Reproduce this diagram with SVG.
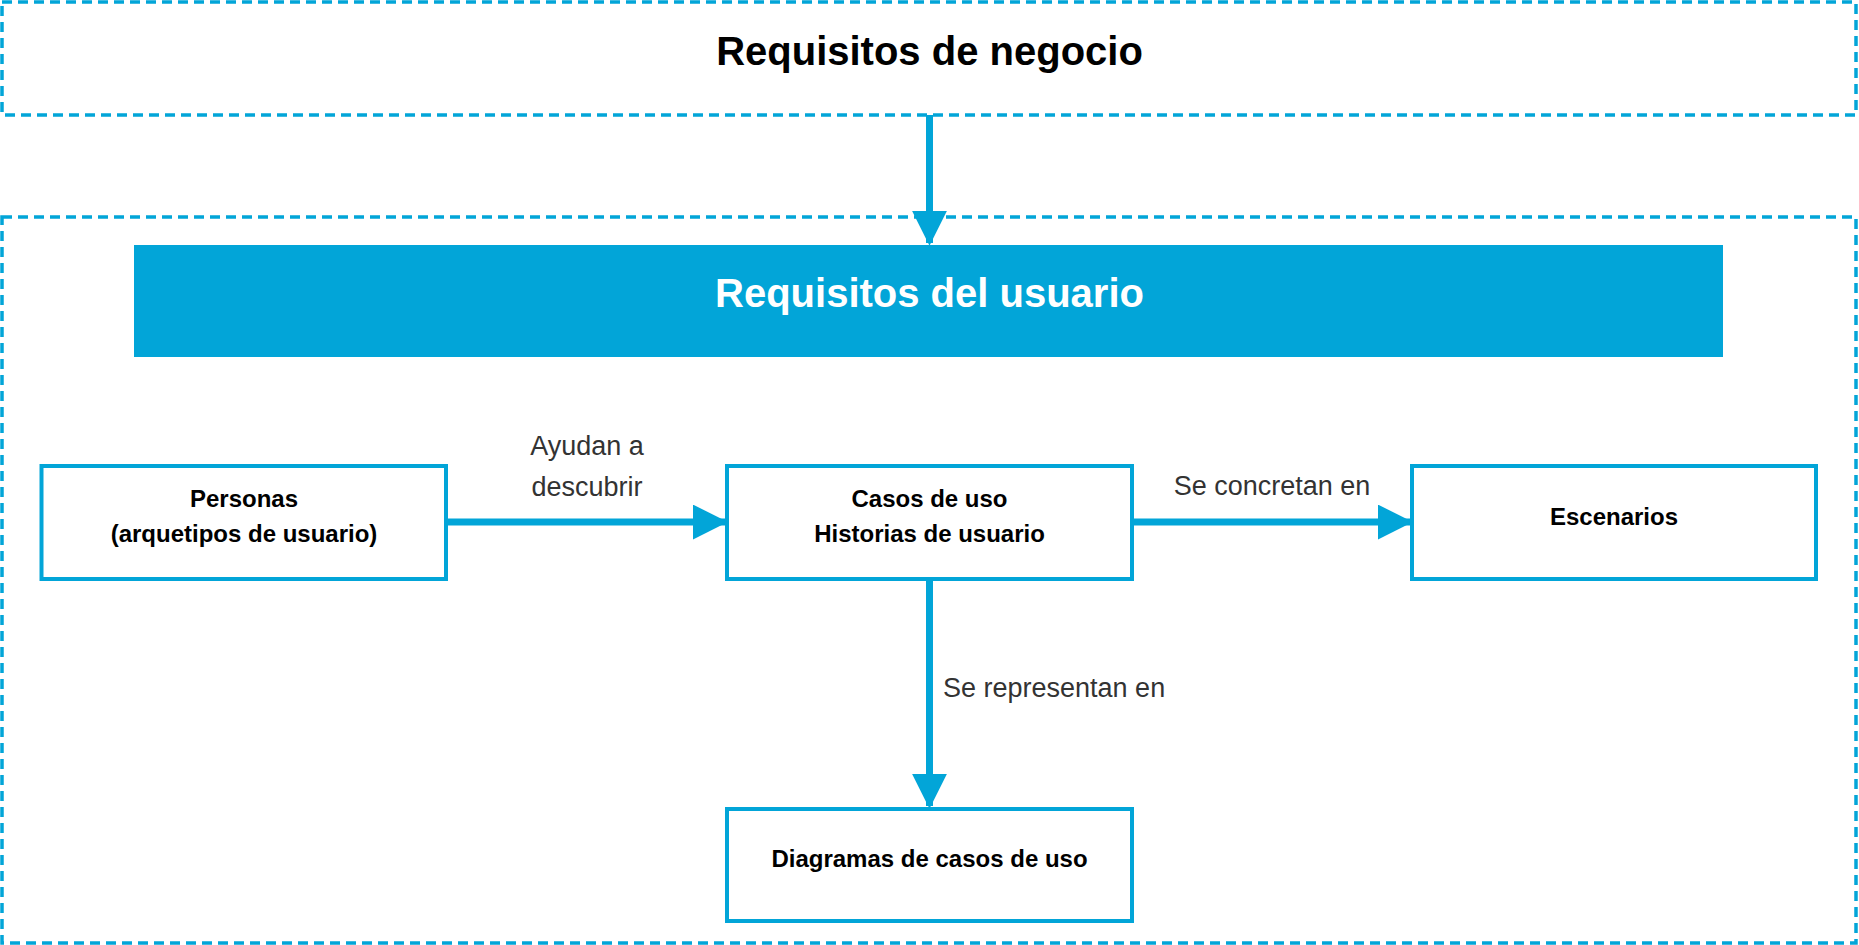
<svg xmlns="http://www.w3.org/2000/svg" width="1859" height="945" viewBox="0 0 1859 945">
<defs>
<style>
.dash{fill:none;stroke:#02A5D8;stroke-width:3.5;stroke-dasharray:10,6}
.box{fill:#fff;stroke:#02A5D8;stroke-width:4}
.nt{font-family:"Liberation Sans",Arial,sans-serif;font-weight:bold;font-size:24px;fill:#000;text-anchor:middle;dominant-baseline:middle}
.lbl{font-family:"Liberation Sans",Arial,sans-serif;font-size:27px;fill:#333;dominant-baseline:middle}
.con{stroke:#02A5D8;stroke-width:7;fill:none}
</style>
<marker id="ah" markerWidth="5" markerHeight="5" refX="4.6" refY="2.5" orient="auto" markerUnits="strokeWidth"><path d="M0,0 L5,2.5 L0,5 Z" fill="#02A5D8"/></marker>
<marker id="ahs" markerWidth="6" markerHeight="4" refX="5.6" refY="2" orient="auto" markerUnits="strokeWidth"><path d="M0,0 L6,2 L0,4 Z" fill="#02A5D8"/></marker>
</defs>
<g id="negocio">
<rect class="dash" x="2" y="2" width="1854" height="113"/>
<text class="nt" x="929.5" y="54" style="font-size:40px">Requisitos de negocio</text>
</g>
<g id="usuario-frame">
<rect class="dash" x="2" y="217" width="1854" height="726"/>
</g>
<g id="usuario">
<rect x="134" y="245" width="1589" height="112" fill="#02A5D8"/>
<text class="nt" x="929.5" y="296" style="font-size:40px;fill:#fff">Requisitos del usuario</text>
</g>
<g id="personas">
<rect class="box" x="41.5" y="466" width="404.5" height="113"/>
<text class="nt" x="244" y="501">Personas</text>
<text class="nt" x="244" y="536">(arquetipos de usuario)</text>
</g>
<g id="casos">
<rect class="box" x="727" y="466" width="405" height="113"/>
<text class="nt" x="929.5" y="501">Casos de uso</text>
<text class="nt" x="929.5" y="536">Historias de usuario</text>
</g>
<g id="escenarios">
<rect class="box" x="1412" y="466" width="404" height="113"/>
<text class="nt" x="1614" y="519">Escenarios</text>
</g>
<g id="diagramas">
<rect class="box" x="727" y="809" width="405" height="112"/>
<text class="nt" x="929.5" y="861">Diagramas de casos de uso</text>
</g>
<g id="connectors">
<line class="con" x1="929.5" y1="115" x2="929.5" y2="243" marker-end="url(#ah)"/>
<line class="con" x1="446" y1="522" x2="725" y2="522" marker-end="url(#ah)"/>
<line class="con" x1="1132" y1="522" x2="1410" y2="522" marker-end="url(#ah)"/>
<line class="con" x1="929.5" y1="579" x2="929.5" y2="806" marker-end="url(#ah)"/>
<text class="lbl" x="587" y="448" text-anchor="middle">Ayudan a</text>
<text class="lbl" x="587" y="489" text-anchor="middle">descubrir</text>
<text class="lbl" x="1272" y="488" text-anchor="middle">Se concretan en</text>
<text class="lbl" x="943" y="690">Se representan en</text>
</g>
</svg>
